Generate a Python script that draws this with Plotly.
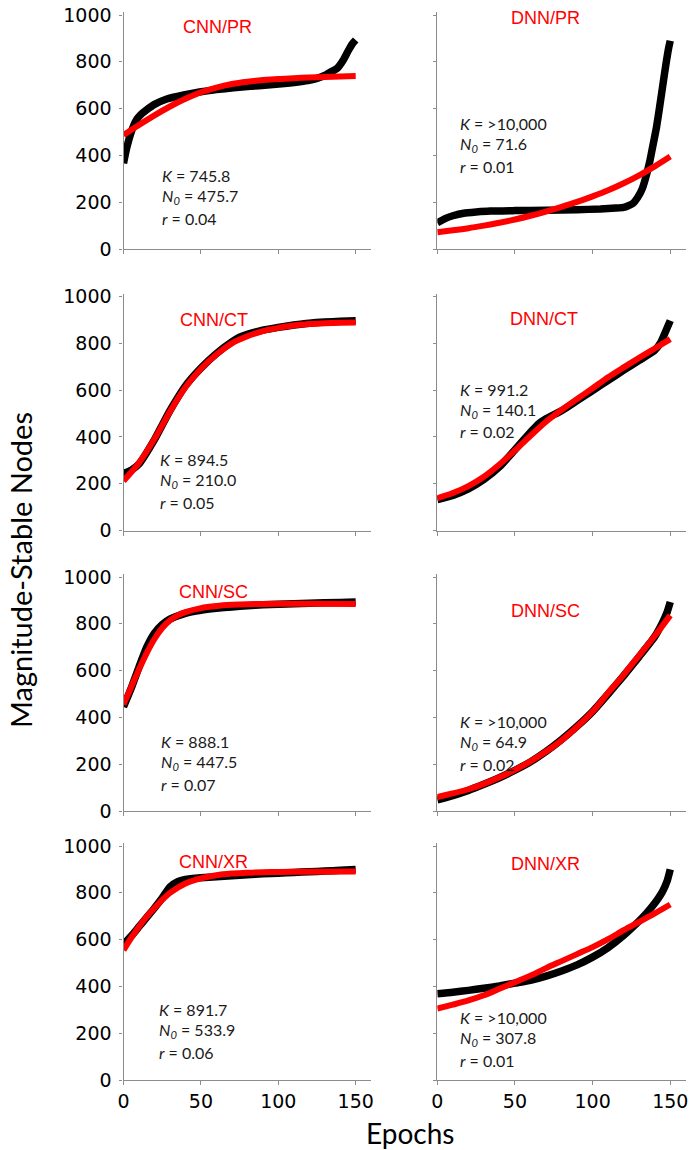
import plotly.graph_objects as go

# ---------------- data ----------------
PANEL_TITLES = ["CNN/PR", "DNN/PR", "CNN/CT", "DNN/CT", "CNN/SC", "DNN/SC", "CNN/XR", "DNN/XR"]

K_LABELS = ["745.8", ">10,000", "894.5", "991.2", "888.1", ">10,000", "891.7", ">10,000"]
N0_LABELS = ["475.7", "71.6", "210.0", "140.1", "447.5", "64.9", "533.9", "307.8"]
R_LABELS = ["0.04", "0.01", "0.05", "0.02", "0.07", "0.02", "0.06", "0.01"]

X_TICKS = [0, 50, 100, 150]
Y_TICKS = [0, 200, 400, 600, 800, 1000]

FIT_EPOCHS = [0, 10, 20, 30, 40, 50, 60, 70, 80, 90, 100, 110, 120, 130, 140, 150]

# CNN/PR
cnn_pr_obs_t = [0, 2, 5, 8, 11, 15, 20, 28, 39, 50, 60, 71, 82, 93, 104, 114, 120, 125, 130, 134, 138, 142, 145, 148, 150]
cnn_pr_obs_v = [366, 430, 500, 548, 573, 595, 618, 641, 658, 672, 681, 689, 695, 701, 707, 715, 721, 729, 742, 757, 772, 808, 845, 878, 893]
cnn_pr_fit_v = [487, 530, 571, 609, 642, 670, 690, 705, 715, 722, 727, 730, 733, 735, 737, 739]

# DNN/PR
dnn_pr_obs_t = [0, 5, 10, 17, 25, 34, 50, 70, 90, 105, 115, 120, 123, 126, 129, 132, 135, 137, 139, 141, 143, 145, 147, 149, 150]
dnn_pr_obs_v = [112, 130, 142, 153, 158, 162, 164, 166, 168, 171, 175, 178, 185, 195, 220, 258, 325, 380, 448, 515, 600, 690, 780, 860, 890]
dnn_pr_fit_v = [72, 80, 89, 100, 112, 126, 142, 160, 180, 201, 225, 251, 281, 315, 353, 395]

# CNN/CT
cnn_ct_obs_t = [0, 5, 10, 20, 30, 40, 50, 60, 70, 75, 80, 90, 100, 110, 120, 130, 140, 150]
cnn_ct_obs_v = [244, 258, 284, 388, 512, 618, 694, 756, 806, 826, 838, 856, 868, 878, 886, 891, 894, 896]
cnn_ct_fit_v = [212, 289, 391, 508, 612, 691, 752, 800, 830, 852, 866, 876, 882, 886, 888, 889]

# DNN/CT
dnn_ct_obs_t = [0, 10, 20, 30, 40, 50, 60, 65, 70, 80, 90, 100, 110, 120, 130, 140, 144, 147, 150]
dnn_ct_obs_v = [132, 150, 178, 218, 272, 345, 420, 455, 478, 512, 555, 598, 642, 685, 727, 770, 805, 850, 897]
dnn_ct_fit_v = [138, 160, 190, 230, 282, 342, 405, 465, 515, 562, 608, 655, 697, 738, 778, 818]

# CNN/SC
cnn_sc_obs_t = [0, 5, 10, 15, 20, 25, 30, 40, 50, 60, 70, 80, 90, 100, 120, 140, 150]
cnn_sc_obs_v = [445, 525, 615, 700, 760, 797, 820, 845, 858, 866, 872, 877, 881, 884, 888, 891, 893]
cnn_sc_fit_t = [0, 5, 10, 15, 20, 25, 30, 35, 40, 50, 60, 70, 80, 100, 120, 150]
cnn_sc_fit_v = [455, 530, 605, 675, 735, 782, 815, 836, 850, 867, 876, 881, 884, 886, 886, 885]

# DNN/SC
dnn_sc_obs_t = [0, 10, 20, 30, 40, 50, 60, 70, 80, 90, 100, 110, 120, 130, 140, 145, 148, 150]
dnn_sc_obs_v = [48, 66, 88, 114, 142, 174, 210, 254, 305, 362, 425, 500, 578, 660, 745, 805, 850, 893]
dnn_sc_fit_v = [60, 75, 93, 116, 144, 176, 212, 254, 302, 360, 425, 505, 582, 665, 748, 836]

# CNN/XR
cnn_xr_obs_t = [0, 5, 10, 15, 20, 25, 30, 35, 40, 50, 60, 70, 80, 90, 100, 110, 120, 130, 140, 150]
cnn_xr_obs_v = [580, 615, 655, 695, 735, 778, 825, 848, 857, 864, 869, 873, 877, 881, 884, 887, 890, 893, 896, 900]
cnn_xr_fit_t = [0, 5, 10, 15, 20, 25, 30, 40, 50, 60, 70, 80, 90, 100, 120, 150]
cnn_xr_fit_v = [555, 608, 655, 698, 735, 770, 800, 840, 862, 875, 882, 886, 888, 889, 890, 891]

# DNN/XR
dnn_xr_obs_t = [0, 10, 20, 30, 40, 50, 60, 70, 80, 90, 100, 110, 120, 130, 135, 140, 145, 148, 150]
dnn_xr_obs_v = [369, 375, 383, 392, 402, 414, 426, 444, 466, 492, 525, 566, 618, 680, 715, 755, 805, 850, 900]
dnn_xr_fit_v = [305, 322, 340, 362, 390, 418, 446, 478, 508, 538, 568, 602, 640, 676, 712, 750]

OBS_T = [cnn_pr_obs_t, dnn_pr_obs_t, cnn_ct_obs_t, dnn_ct_obs_t, cnn_sc_obs_t, dnn_sc_obs_t, cnn_xr_obs_t, dnn_xr_obs_t]
OBS_V = [cnn_pr_obs_v, dnn_pr_obs_v, cnn_ct_obs_v, dnn_ct_obs_v, cnn_sc_obs_v, dnn_sc_obs_v, cnn_xr_obs_v, dnn_xr_obs_v]
FIT_T = [FIT_EPOCHS, FIT_EPOCHS, FIT_EPOCHS, FIT_EPOCHS, cnn_sc_fit_t, FIT_EPOCHS, cnn_xr_fit_t, FIT_EPOCHS]
FIT_V = [cnn_pr_fit_v, dnn_pr_fit_v, cnn_ct_fit_v, dnn_ct_fit_v, cnn_sc_fit_v, dnn_sc_fit_v, cnn_xr_fit_v, dnn_xr_fit_v]

# ---------------- layout (pixel geometry) ----------------
W, H = 691, 1150
COL_X0 = [123.5, 437.3]          # pixel x of epoch 0
PX_PER_EPOCH = [1.548, 1.553]
X_MAX = 160
ROW_Y0 = [249, 530.5, 811, 1080]  # pixel y of value 0
PX_PER_UNIT = 0.234
Y_MAX = 1012

TITLE_POS = [(217, 27), (545, 17.5), (214, 320), (544, 319), (213, 592), (545, 611), (213, 862), (545, 864)]
STATS_POS = [(160, 175), (458, 123.5), (158, 459), (458, 389), (159, 741), (458, 721), (157, 1009), (458, 1017)]
LINE_GAP = 21.5

AXIS_GREY = "#8c8c8c"
TICK_FONT = dict(family="DejaVu Sans", size=19, color="black")


def fx(px):
    return px / W


def fy(py):
    return 1 - py / H


fig = go.Figure()
annotations = []

for i in range(8):
    row, col = divmod(i, 2)
    n = i + 1
    xa = "x" if n == 1 else f"x{n}"
    ya = "y" if n == 1 else f"y{n}"

    fig.add_trace(go.Scatter(
        x=OBS_T[i], y=OBS_V[i], mode="lines", xaxis=xa, yaxis=ya,
        line=dict(color="black", width=7.5, shape="spline", smoothing=0.5),
        showlegend=False, hoverinfo="skip"))
    fig.add_trace(go.Scatter(
        x=FIT_T[i], y=FIT_V[i], mode="lines", xaxis=xa, yaxis=ya,
        line=dict(color="#ff0000", width=6, shape="spline", smoothing=0.8),
        showlegend=False, hoverinfo="skip"))

    x0 = COL_X0[col]
    x1 = x0 + X_MAX * PX_PER_EPOCH[col]
    yb = ROW_Y0[row]
    yt = yb - Y_MAX * PX_PER_UNIT

    xkey = "xaxis" if n == 1 else f"xaxis{n}"
    ykey = "yaxis" if n == 1 else f"yaxis{n}"
    fig.layout[xkey] = dict(
        domain=[fx(x0), fx(x1)], range=[0, X_MAX], anchor=ya,
        showline=True, linecolor=AXIS_GREY, linewidth=1.2,
        ticks="outside", ticklen=4, tickcolor=AXIS_GREY, tickwidth=1,
        tickvals=X_TICKS, showticklabels=(row == 3), tickfont=TICK_FONT,
        showgrid=False, zeroline=False, fixedrange=True, automargin=False)
    fig.layout[ykey] = dict(
        domain=[fy(yb), fy(yt)], range=[0, Y_MAX], anchor=xa,
        showline=True, linecolor=AXIS_GREY, linewidth=1.2,
        ticks="outside", ticklen=3, tickcolor=AXIS_GREY, tickwidth=1,
        tickvals=Y_TICKS, showticklabels=(col == 0), tickfont=TICK_FONT,
        ticklabelstandoff=4,
        showgrid=False, zeroline=False, fixedrange=True, automargin=False)

    tx, ty = TITLE_POS[i]
    annotations.append(dict(
        text=PANEL_TITLES[i], x=fx(tx), y=fy(ty), xref="paper", yref="paper",
        xanchor="center", yanchor="middle", showarrow=False,
        font=dict(family="Liberation Sans", size=18, color="#ff0000")))

    sx, sy = STATS_POS[i]
    lines = [f"<i>K</i> = {K_LABELS[i]}",
             f"<i>N</i><sub><i>0</i></sub> = {N0_LABELS[i]}",
             f"<i>r</i> = {R_LABELS[i]}"]
    for j, txt in enumerate(lines):
        annotations.append(dict(
            text=txt, x=fx(sx), y=fy(sy + j * LINE_GAP), xref="paper", yref="paper",
            xanchor="left", yanchor="middle", showarrow=False,
            font=dict(family="Lato", size=16, color="#1a1a1a")))

annotations.append(dict(
    text="Magnitude-Stable Nodes", x=fx(20), y=fy(570), xref="paper", yref="paper",
    xanchor="center", yanchor="middle", textangle=-90, showarrow=False,
    font=dict(family="Lato", size=29, color="black")))
annotations.append(dict(
    text="Epochs", x=fx(410), y=fy(1133), xref="paper", yref="paper",
    xanchor="center", yanchor="middle", showarrow=False,
    font=dict(family="Lato", size=28, color="black")))

fig.update_layout(
    width=W, height=H, margin=dict(l=0, r=0, t=0, b=0, pad=0, autoexpand=False),
    paper_bgcolor="white", plot_bgcolor="white",
    annotations=annotations, showlegend=False)

fig.write_html(
    "out.html",
    config={"displayModeBar": False},
    post_script="document.body.style.margin='0';document.body.style.overflow='hidden';")
